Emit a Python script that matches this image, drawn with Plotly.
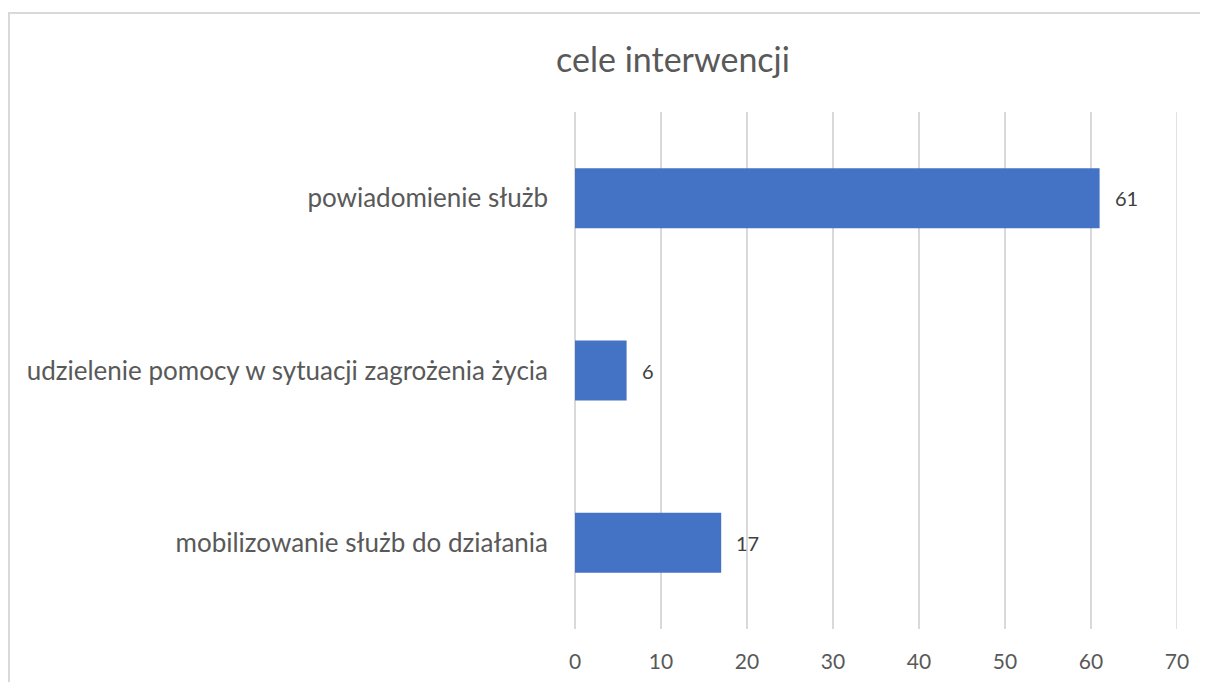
import plotly.graph_objects as go

categories = ["powiadomienie służb",
              "udzielenie pomocy w sytuacji zagrożenia życia",
              "mobilizowanie służb do działania"]
values = [61, 6, 17]
tick_vals = [0, 10, 20, 30, 40, 50, 60, 70]
title_text = "cele interwencji"

FONT = "Lato, 'Open Sans', sans-serif"
TXT = "#595959"
GRID = "#d9d9d9"

# plot area in figure pixels (page has 8px body margin)
L, T, PW, PH = 567, 104, 602, 517

fig = go.Figure(go.Bar(
    x=values, y=categories, orientation="h",
    marker=dict(color="#4472C4", line=dict(width=0)),
    hoverinfo="skip",
))

for c, v in zip(categories, values):
    fig.add_annotation(x=v, y=c, text=str(v), showarrow=False,
                       xanchor="left", xshift=13,
                       font=dict(family=FONT, size=20, color="#404040"))

fig.update_layout(
    width=1208, height=682,
    margin=dict(l=L, r=1208 - L - PW, t=T, b=682 - T - PH),
    paper_bgcolor="white", plot_bgcolor="white",
    bargap=0.652,
    showlegend=False,
    title=dict(text=title_text, x=665 / 1208, xanchor="center",
               y=1 - 52 / 682, yanchor="middle",
               font=dict(family=FONT, size=34, color=TXT)),
    font=dict(family=FONT, color=TXT),
)
fig.update_xaxes(range=[tick_vals[0], tick_vals[-1]], tickvals=tick_vals,
                 showgrid=True, gridcolor=GRID, gridwidth=1.5,
                 zeroline=True, zerolinecolor=GRID, zerolinewidth=1.5,
                 showline=False, ticks="", ticklabelstandoff=18,
                 tickfont=dict(family=FONT, size=21, color=TXT),
                 fixedrange=True)
fig.update_yaxes(autorange="reversed", showgrid=False, showline=False,
                 ticks="", ticklabelstandoff=26,
                 tickfont=dict(family=FONT, size=26, color=TXT),
                 fixedrange=True)

# gridline at the axis maximum (plotly omits grid at the range edge)
fig.add_shape(type="line", xref="x", yref="paper",
              x0=tick_vals[-1], x1=tick_vals[-1], y0=0, y1=1,
              line=dict(color=GRID, width=1.5), layer="below")

# chart border
fig.add_shape(type="rect", xref="paper", yref="paper",
              x0=(1 - L) / PW, x1=(1215 - L) / PW,
              y0=(T + PH - 700) / PH, y1=(T + PH - 5) / PH,
              line=dict(color=GRID, width=2), fillcolor="rgba(0,0,0,0)",
              layer="below")

fig.write_html("out.html")
